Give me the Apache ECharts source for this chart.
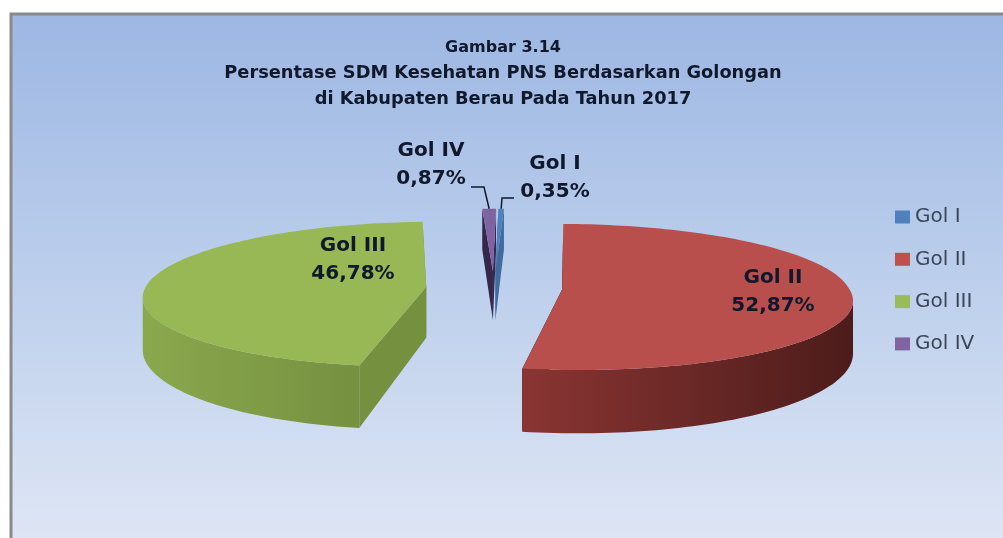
<!DOCTYPE html>
<html>
<head>
<meta charset="utf-8">
<style>html,body{margin:0;padding:0;background:#fff}#main{width:1003px;height:538px}</style>
<script src="https://cdn.jsdelivr.net/npm/echarts@6/dist/echarts.min.js"></script>
</head>
<body>
<div id="main"></div>
<script>
// data
var categories = ['Gol I', 'Gol II', 'Gol III', 'Gol IV'];
var percents = [0.35, 52.87, 46.78, 0.87];
var titleTop = 'Gambar 3.14';
var titleRest = ['Persentase SDM Kesehatan PNS Berdasarkan Golongan', 'di Kabupaten Berau Pada Tahun 2017'];

// colours per slice
var topColors = ['#4f81bd', '#b84f4c', '#98b755', '#8064a2'];
var legendColors = ['#4f81bd', '#c0504d', '#9bbb59', '#8064a2'];
var sideColors = ['#3f6b9f', '#2e1210', '#75903f', '#35264a'];
var wallLeft = ['#3f6b9f', '#8a3533', '#8aa84d', '#35264a'];
var wallRight = ['#3f6b9f', '#4c1c1a', '#6f8a3d', '#35264a'];
// fake 3d settings, tuned by eye
var cx = 494, cy = 288, scaleX = 287, scaleY = 72, persp = 0.1, depth = 51, explode = 0.237;
var skewNear = [0, 8, -6, 0];
var skewFar = [3, 2, 4, 3];
var radiusX = [1, 1, 0.979, 1];
// label centres
var labelPos = [[555, 178], [773, 292], [353, 260], [431, 165]];
var leaders = [
  [[514, 198], [502, 198]],
  null,
  null,
  [[471, 187], [484, 187]]
];

var total = percents.reduce(function (a, b) { return a + b; }, 0);

function project(X, Z, i) {
  var w = 1 + persp * Z;
  return {
    x: cx + scaleX * X / w + skewNear[i] * Math.max(0, -Z) + skewFar[i] * Math.max(0, Z),
    y: cy - scaleY * Z / w,
    drop: depth / (w * w)
  };
}

function poly(points, fill) {
  return { type: 'polygon', shape: { points: points }, style: { fill: fill, stroke: null } };
}

function renderSlice(i) {
  var start = 0;
  for (var k = 0; k < i; k++) start += percents[k];
  var a0 = start / total * 2 * Math.PI;
  var a1 = (start + percents[i]) / total * 2 * Math.PI;
  var mid = (a0 + a1) / 2;
  var ex = explode * Math.sin(mid), ez = explode * Math.cos(mid);
  var apex = project(ex, ez, i);
  var steps = Math.max(4, Math.round((a1 - a0) * 40));
  var rim = [];
  for (var s = 0; s <= steps; s++) {
    var a = a0 + (a1 - a0) * s / steps;
    rim.push(project(ex + radiusX[i] * Math.sin(a), ez + Math.cos(a), i));
  }
  var first = rim[0], last = rim[rim.length - 1];
  var topFace = [[apex.x, apex.y]].concat(rim.map(function (p) { return [p.x, p.y]; }));
  var xs = rim.map(function (p) { return p.x; });
  var minX = Math.min.apply(null, xs), maxX = Math.max.apply(null, xs);
  // only the front part of the rim gets an outer wall
  var front = Math.sin(mid) > 0 ? rim.slice(xs.indexOf(maxX)) : rim.slice(0, xs.indexOf(minX) + 1);
  var outer = front.map(function (p) { return [p.x, p.y]; })
    .concat(front.slice().reverse().map(function (p) { return [p.x, p.y + p.drop]; }));
  var wallFill = new echarts.graphic.LinearGradient(minX, 0, maxX, 0, [
    { offset: 0, color: wallLeft[i] }, { offset: 1, color: wallRight[i] }
  ], true);

  var children = [
    poly([[apex.x, apex.y], [first.x, first.y], [first.x, first.y + first.drop], [apex.x, apex.y + apex.drop]], sideColors[i]),
    poly([[apex.x, apex.y], [last.x, last.y], [last.x, last.y + last.drop], [apex.x, apex.y + apex.drop]], sideColors[i]),
    poly(outer, wallFill),
    poly(topFace, topColors[i])
  ];

  if (leaders[i]) {
    var m = project(ex + Math.sin(mid), ez + Math.cos(mid), i);
    children.push({
      type: 'polyline',
      shape: { points: leaders[i].concat([[m.x, m.y]]) },
      style: { fill: null, stroke: '#111a2c', lineWidth: 1.5 }
    });
  }
  children.push({
    type: 'text',
    style: {
      text: categories[i] + '\n' + percents[i].toFixed(2).replace('.', ',') + '%',
      x: labelPos[i][0], y: labelPos[i][1],
      align: 'center', verticalAlign: 'middle',
      font: 'bold 20px "DejaVu Sans"', lineHeight: 28.5, fill: '#10182b'
    }
  });
  return { type: 'group', children: children };
}

var series = categories.map(function (name, i) {
  return {
    name: name,
    type: 'custom',
    coordinateSystem: 'none',
    silent: true,
    itemStyle: { color: legendColors[i] },
    data: [[percents[i]]],
    renderItem: function () { return renderSlice(i); }
  };
});

var chart = echarts.init(document.getElementById('main'));
chart.setOption({
  animation: false,
  backgroundColor: '#ffffff',
  title: {
    text: '{a|' + titleTop + '}\n' + titleRest.map(function (t) { return '{b|' + t + '}'; }).join('\n'),
    left: 498, top: 30, textAlign: 'center',
    textStyle: {
      rich: {
        a: { fontFamily: 'DejaVu Sans', fontWeight: 'bold', fontSize: 16, lineHeight: 26, color: '#10182b', align: 'center' },
        b: { fontFamily: 'DejaVu Sans', fontWeight: 'bold', fontSize: 17.8, lineHeight: 25.5, color: '#10182b', align: 'center' }
      }
    }
  },
  legend: {
    data: categories,
    orient: 'vertical',
    left: 890, top: 202,
    icon: 'rect',
    itemWidth: 15, itemHeight: 13, itemGap: 22.3,
    textStyle: { fontFamily: 'DejaVu Sans', fontSize: 20, lineHeight: 20, color: '#3b4658' }
  },
  graphic: [{
    type: 'rect',
    z: -10,
    shape: { x: 11, y: 14, width: 1020, height: 560 },
    style: {
      stroke: '#8a8a8a', lineWidth: 3,
      fill: new echarts.graphic.LinearGradient(0, 0, 0, 1, [
        { offset: 0, color: '#9db7e3' },
        { offset: 0.5, color: '#bed0ec' },
        { offset: 1, color: '#e3e9f6' }
      ])
    }
  }],
  series: series
});
</script>
</body>
</html>
